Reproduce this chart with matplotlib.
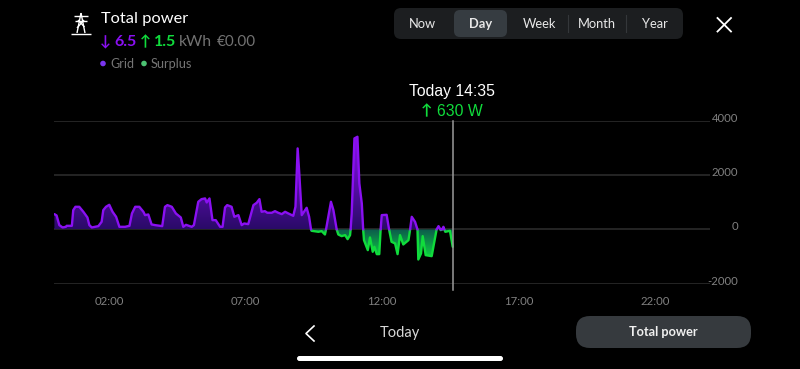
import matplotlib
matplotlib.use('Agg')
import matplotlib.pyplot as plt
from matplotlib.patches import FancyBboxPatch, Circle
from matplotlib.colors import LinearSegmentedColormap
import numpy as np

# power curve, hours since midnight / watts (negative = surplus)
hours = [0, .08, .18, .30, .42, .45, .64, .69, .77, .91, 1.06, 1.21, 1.28, 1.37, 1.61, 1.73, 1.79, 1.89,
         2.01, 2.13, 2.26, 2.38, 2.59, 2.75, 2.84, 2.96, 3.11, 3.26, 3.32, 3.44, 3.56, 3.69, 3.95, 4.05,
         4.14, 4.30, 4.45, 4.63, 4.72, 4.82, 5.03, 5.11, 5.27, 5.39, 5.52, 5.58, 5.68, 5.79, 5.91, 6.07,
         6.16, 6.25, 6.33, 6.49, 6.59, 6.74, 6.86, 6.95, 7.10, 7.29, 7.41, 7.51, 7.59, 7.71, 7.80, 7.96,
         8.08, 8.20, 8.33, 8.45, 8.57, 8.75, 8.83, 8.91, 8.97, 9.06, 9.24, 9.33, 9.40, 9.42, 9.67, 9.79,
         9.91, 9.95, 10.13, 10.22, 10.34, 10.40, 10.52, 10.65, 10.74, 10.83, 10.85, 10.89, 10.99, 11.10,
         11.17, 11.26, 11.31, 11.34, 11.48, 11.56, 11.66, 11.72, 11.81, 11.90, 11.95, 11.99, 12.17, 12.26,
         12.35, 12.48, 12.57, 12.66, 12.78, 12.97, 13.03, 13.09, 13.21, 13.30, 13.33, 13.43, 13.49, 13.60,
         13.82, 13.94, 14.00, 14.07, 14.14, 14.15, 14.20, 14.25, 14.28, 14.32, 14.49, 14.59]
watts = [566, 517, 160, 74, 98, 135, 135, 713, 836, 836, 652, 443, 160, 74, 123, 283, 713, 836,
         910, 652, 467, 98, 98, 135, 590, 836, 836, 652, 529, 553, 185, 160, 123, 836,
         898, 836, 590, 443, 98, 172, 98, 160, 1021, 1119, 1144, 996, 1144, 344, 344, 98,
         98, 812, 898, 836, 467, 529, 160, 221, 197, 898, 984, 1119, 652, 676, 615, 615,
         676, 615, 566, 652, 590, 504, 836, 2989, 2066, 529, 800, 467, 0, -49, -86, -62,
         -185, 0, 1021, 713, 0, -185, -246, -209, -357, -209, 0, 590, 3358, 3419,
         1697, 959, 0, -394, -763, -295, -824, -640, -910, -910, 0, 529, 541, 0,
         -455, -517, -910, -209, -553, -394, 0, 467, 283, 0, -1107, -886, -246, -947,
         -984, -332, 0, 123, 0, -25, 0, 98, 0, -86, -49, -640]

y_ticks = [4000, 2000, 0, -2000]
x_ticks = [2, 7, 12, 17, 22]
x_labels = ['02:00', '07:00', '12:00', '17:00', '22:00']
ranges = ['Now', 'Day', 'Week', 'Month', 'Year']
range_x = [422.5, 480.5, 539, 597, 655]
cursor_hour = 14.6

hours = np.array(hours)
watts = np.array(watts, dtype=float)
grid = np.where(watts >= 0, watts, np.nan)
surplus = np.where(watts <= 0, watts, np.nan)

PURPLE = '#8a10f2'
GREEN = '#10dc3c'
FONT = ['Lato', 'DejaVu Sans']

fig = plt.figure(figsize=(8, 3.69), dpi=100, facecolor='black')

# ui layer in pixel coordinates
ui = fig.add_axes([0, 0, 1, 1])
ui.set_xlim(0, 800)
ui.set_ylim(369, 0)
ui.axis('off')


def pill(x0, y0, x1, y1, r, color):
    ui.add_patch(FancyBboxPatch((x0 + r, y0 + r), x1 - x0 - 2 * r, y1 - y0 - 2 * r,
                                boxstyle='round,pad=%f,rounding_size=%f' % (r, r),
                                fc=color, ec='none', mutation_aspect=1))


def label(x, y, s, color='white', size=10, ha='left', **kw):
    kw.setdefault('family', FONT)
    ui.text(x, y, s, color=color, fontsize=size, ha=ha, va='center', **kw)


# pylon icon
for xs, ys in [((71, 91), (33.5, 33.5)), ((74, 88), (15.5, 15.5)), ((75, 87), (21, 21)),
               ((81, 77), (13, 33)), ((81, 85), (13, 33)), ((78, 84.5), (20, 27)), ((84, 77), (20, 28))]:
    ui.plot(xs, ys, color='white', lw=1.0, solid_capstyle='butt')

label(101, 19, 'Total power', size=11.8)
label(100, 42, '↓', PURPLE, 10.5, weight='bold')
label(114.5, 42, '6.5', PURPLE, 11.5, weight='bold')
label(140, 42, '↑', GREEN, 10.5, weight='bold')
label(154, 42, '1.5', GREEN, 11.5, weight='bold')
label(179, 42, 'kWh', '#727272', 11.3)
label(217, 42, '€0.00', '#727272', 11)
ui.add_patch(Circle((103, 63.5), 2.8, fc='#7a35ee', ec='none'))
label(110, 64.5, 'Grid', '#757575', 9)
ui.add_patch(Circle((144, 63.5), 2.8, fc='#4cc272', ec='none'))
label(151, 64.5, 'Surplus', '#757575', 9.2)

# range selector
pill(394, 8, 683, 39, 7, '#1c1e20')
pill(454, 10, 507, 37, 6, '#363c41')
for x in [568, 626]:
    ui.plot([x, x], [15, 32], color='#34373a', lw=0.8)
for x, s in zip(range_x, ranges):
    label(x, 24.5, s, '#e8e8e8', 9.3, ha='center', weight='bold' if s == 'Day' else 'normal')
ui.plot([717.5, 731], [18, 31.5], color='white', lw=1.3)
ui.plot([717.5, 731], [31.5, 18], color='white', lw=1.3)

# bottom bar
ui.plot([314, 306, 314], [326, 333.5, 341], color='white', lw=1.2)
label(399.5, 333, 'Today', '#d8d8d8', 10.5, ha='center')
pill(576, 316, 751, 348, 14, '#363a3e')
label(663.5, 332.5, 'Total power', '#f0f0f0', 9.2, ha='center', weight='bold')
pill(297, 356, 503, 361, 2.5, 'white')

# readout above the cursor
label(452, 91.5, 'Today 14:35', 'white', 11.3, ha='center', family='Liberation Sans')
label(427, 111, '↑', GREEN, 11, ha='center', weight='bold')
label(460, 111, '630 W', GREEN, 11.3, ha='center', family='Liberation Sans')

# chart, axes box runs from 4000 to -2000 and over the full day
ax = fig.add_axes([54.4 / 800, 1 - 283.7 / 369, 655.2 / 800, (283.7 - 121) / 369])
ax.patch.set_alpha(0)
ax.set_xlim(0, 24)
ax.set_ylim(-2000, 4000)
for s in ax.spines.values():
    s.set_visible(False)
ax.set_yticks(y_ticks)
ax.set_yticklabels([])
ax.set_xticks(x_ticks)
ax.set_xticklabels(x_labels, family=FONT, fontsize=8.2, color='#808080')
ax.tick_params(length=0, pad=9)
ax.grid(axis='y', color='#2e2e2e', lw=1.1)
ax.set_axisbelow(True)
for v in y_ticks:
    ax.annotate(str(v), (1, v), xytext=(28.5 * 0.72, 1.8), textcoords='offset points',
                xycoords=('axes fraction', 'data'), ha='right', va='center',
                color='#808080', fontsize=8.2, family=FONT)

purple_map = LinearSegmentedColormap.from_list('p', ['#2a0a68', '#8a12ee'])
green_map = LinearSegmentedColormap.from_list('g', ['#0c5a4c', '#0ee240'])
ramp = np.linspace(0, 1, 128).reshape(-1, 1)

pos = ax.fill_between(hours, 0, np.maximum(watts, 0), color='none', lw=0)
im = ax.imshow(ramp, extent=(0, 24, 0, 3450), origin='lower', cmap=purple_map, aspect='auto', zorder=2)
im.set_clip_path(pos.get_paths()[0], transform=ax.transData)

neg = ax.fill_between(hours, 0, np.minimum(watts, 0), color='none', lw=0)
im = ax.imshow(ramp, extent=(0, 24, -1150, 0), origin='upper', cmap=green_map, aspect='auto', zorder=2)
im.set_clip_path(neg.get_paths()[0], transform=ax.transData)

ax.plot(hours, surplus, color=GREEN, lw=1.7, zorder=3, solid_joinstyle='round', solid_capstyle='round')
ax.plot(hours, grid, color=PURPLE, lw=1.7, zorder=3, solid_joinstyle='round', solid_capstyle='round')
ax.plot([cursor_hour, cursor_hour], [4000, -2230], color='#9a9a9a', lw=1.1, zorder=4, clip_on=False)
ax.set_xlim(0, 24)
ax.set_ylim(-2000, 4000)

fig.savefig('out.png', dpi=100, facecolor='black')
